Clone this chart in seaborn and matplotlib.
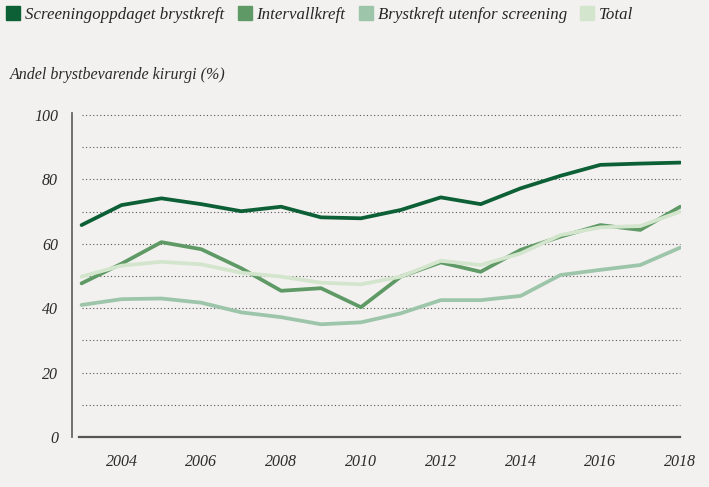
import pandas as pd
import matplotlib.pyplot as plt
from matplotlib.lines import Line2D
import seaborn as sns

years = list(range(2003, 2019))

screening = [65.8, 72.0, 74.1, 72.3, 70.1, 71.5, 68.2, 67.9,
             70.5, 74.4, 72.3, 77.2, 81.1, 84.5, 84.9, 85.2]
intervall = [47.7, 53.8, 60.5, 58.3, 52.4, 45.4, 46.2, 40.3,
             49.8, 54.2, 51.3, 58.1, 62.2, 65.8, 64.3, 71.5]
utenfor = [41.0, 42.8, 43.0, 41.7, 38.7, 37.2, 35.0, 35.6,
           38.4, 42.5, 42.5, 43.8, 50.3, 51.9, 53.4, 58.8]
total = [49.8, 53.2, 54.4, 53.6, 51.0, 49.8, 47.9, 47.4,
         49.8, 54.7, 53.4, 57.0, 62.7, 65.1, 65.5, 70.0]

series_names = ['Screeningoppdaget brystkreft', 'Intervallkreft',
                'Brystkreft utenfor screening', 'Total']
colors = ['#0d5f36', '#5f9a66', '#9dc5aa', '#d3e5cc']

y_ticks = [0, 20, 40, 60, 80, 100]
x_ticks = [2004, 2006, 2008, 2010, 2012, 2014, 2016, 2018]

df = pd.DataFrame({
    'year': years * 4,
    'value': screening + intervall + utenfor + total,
    'series': [n for n in series_names for _ in years],
})

sns.set_theme(style='white')
bg = '#f2f1ef'
text_col = '#2b2b2b'
plt.rcParams['font.family'] = ['Liberation Serif', 'DejaVu Serif']
plt.rcParams['font.style'] = 'italic'

fig = plt.figure(figsize=(7.09, 4.87), dpi=100, facecolor=bg)
ax = fig.add_axes([72 / 709, 1 - 437 / 487, (681 - 72) / 709, (437 - 113) / 487])
ax.set_facecolor(bg)

# dotted grid lines
ax.hlines(range(10, 101, 10), 2003, 2018, colors='#555555', linestyles=(0, (1, 2.2)),
          linewidth=0.8, zorder=1)

sns.lineplot(data=df, x='year', y='value', hue='series', hue_order=series_names,
             palette=colors, linewidth=2.7, legend=False, ax=ax, zorder=3)

ax.set_xlim(2002.76, 2018.02)
ax.set_ylim(0, 100.6)
ax.set_xticks(x_ticks)
ax.set_yticks(y_ticks)
ax.set_xticklabels([str(x) for x in x_ticks], fontsize=11.5, color=text_col, style='italic')
ax.set_yticklabels([str(y) for y in y_ticks], fontsize=11.5, color=text_col, style='italic')
ax.tick_params(axis='both', length=0)
ax.tick_params(axis='x', pad=12)
ax.tick_params(axis='y', pad=10)
ax.set_xlabel('')
ax.set_ylabel('')

for side in ['top', 'right']:
    ax.spines[side].set_visible(False)
ax.spines['left'].set_color('#666666')
ax.spines['left'].set_linewidth(1.3)
ax.spines['bottom'].set_color('#555555')
ax.spines['bottom'].set_linewidth(1.6)
ax.spines['bottom'].set_bounds(2002.93, 2018)

fig.text(10 / 709, 1 - 75 / 487, 'Andel brystbevarende kirurgi (%)', fontsize=11.5,
         color=text_col, style='italic', va='center', ha='left')

handles = [Line2D([], [], marker='s', linestyle='', markersize=10,
                  markerfacecolor=c, markeredgecolor=c) for c in colors]
fig.legend(handles, series_names, loc='center left', bbox_to_anchor=(0.003, 1 - 15 / 487),
           ncol=4, frameon=False, handletextpad=0.25, columnspacing=0.75,
           handlelength=0.9, borderaxespad=0, borderpad=0.2,
           prop={'family': ['Liberation Serif', 'DejaVu Serif'], 'style': 'italic', 'size': 12.2})

fig.savefig('out.png', dpi=100, facecolor=bg)
